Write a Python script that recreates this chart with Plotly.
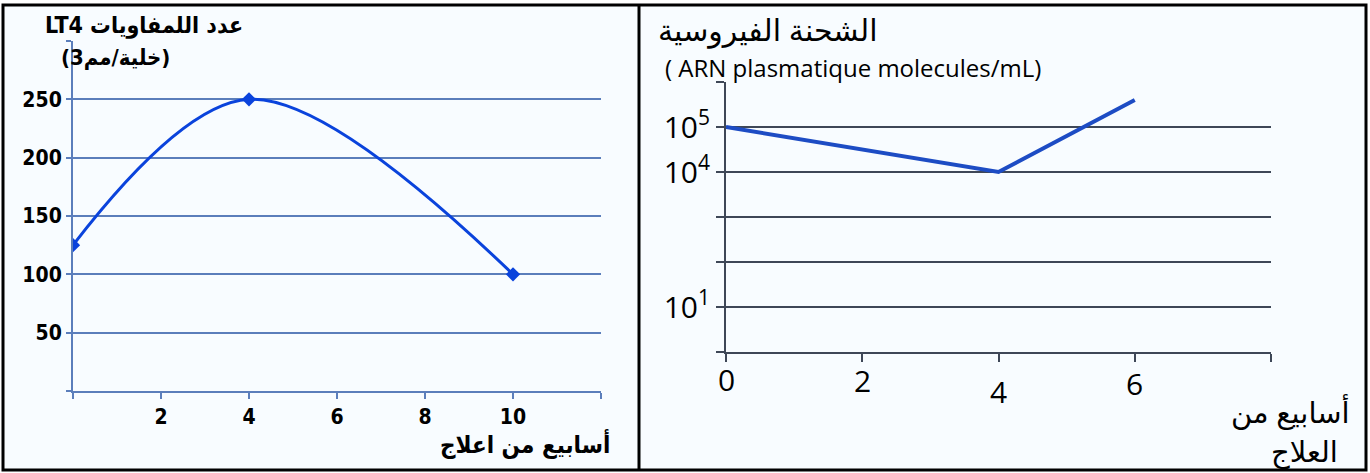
import plotly.graph_objects as go

# ---- data: left chart (LT4 count) ----
lt4_weeks = [0, 4, 10]
lt4_values = [125, 250, 100]
lt4_xticks = [2, 4, 6, 8, 10]
lt4_xticktext = ["2", "4", "6", "8", "10"]
lt4_xminor = [0, 12]
lt4_yticks = [50, 100, 150, 200, 250]
lt4_yticktext = ["50", "100", "150", "200", "250"]
lt4_yminor = [0, 300]

# ---- data: right chart (viral load) ----
vl_weeks = [0, 4, 6]
vl_values = [1e5, 1e4, 4e5]
vl_xticks = [0, 2, 4, 6]
vl_xticktext = ["0", "2", "4", "6"]
vl_xminor = [8]
vl_yticks = [10, 1e4, 1e5]
vl_yticktext = ["10<sup>1</sup>", "10<sup>4</sup>", "10<sup>5</sup>"]
vl_yminor = [1, 100, 1000, 1e6]

W, H = 1370, 473
def px(x):
    return x / W
def py(y):
    return 1 - y / H

BOLD = "DejaVu Sans Condensed, DejaVu Sans"
LIGHT = "Open Sans, DejaVu Sans"
blue_grid = "#5B7EBB"
dark_grid = "#3E4757"

fig = go.Figure()

fig.add_trace(go.Scatter(
    x=lt4_weeks, y=lt4_values, xaxis="x", yaxis="y",
    mode="lines+markers", line=dict(color="#0A43DC", width=3, shape="spline", smoothing=1.0),
    marker=dict(symbol="diamond", size=11, color="#0A43DC"), showlegend=False,
))
fig.add_trace(go.Scatter(
    x=vl_weeks, y=vl_values, xaxis="x2", yaxis="y2",
    mode="lines", line=dict(color="#1D4CC4", width=4), showlegend=False,
))

fig.update_layout(
    width=W, height=H, margin=dict(l=0, r=0, t=0, b=0),
    paper_bgcolor="white", plot_bgcolor="rgba(0,0,0,0)",
    xaxis=dict(domain=[px(73), px(601)], anchor="y", range=[0, 12],
               tickvals=lt4_xticks, ticktext=lt4_xticktext, showgrid=False, zeroline=False,
               showline=True, linecolor=blue_grid, linewidth=2,
               ticks="outside", ticklen=6, tickcolor=blue_grid, tickwidth=2,
               minor=dict(tickvals=lt4_xminor, ticks="outside", ticklen=6, tickcolor=blue_grid,
                          tickwidth=2, showgrid=False),
               tickfont=dict(family=BOLD, size=21, color="black", weight="bold")),
    yaxis=dict(domain=[py(391), py(41)], anchor="x", range=[0, 300],
               tickvals=lt4_yticks, ticktext=lt4_yticktext, showgrid=True, gridcolor=blue_grid, gridwidth=2,
               zeroline=False, showline=True, linecolor=blue_grid, linewidth=2,
               ticks="outside", ticklen=5, tickcolor=blue_grid, tickwidth=2,
               minor=dict(tickvals=lt4_yminor, ticks="outside", ticklen=5, tickcolor=blue_grid,
                          tickwidth=2, showgrid=True, gridcolor=blue_grid, gridwidth=2),
               tickfont=dict(family=BOLD, size=21, color="black", weight="bold")),
    xaxis2=dict(domain=[px(726), px(1271)], anchor="y2", range=[0, 8],
                tickvals=vl_xticks, showticklabels=False, showgrid=False, zeroline=False,
                showline=True, linecolor=dark_grid, linewidth=2,
                ticks="outside", ticklen=8, tickcolor=dark_grid, tickwidth=2,
                minor=dict(tickvals=vl_xminor, ticks="outside", ticklen=8, tickcolor=dark_grid,
                           tickwidth=2, showgrid=False)),
    yaxis2=dict(domain=[py(352), py(82)], anchor="x2", type="log", range=[0, 6],
                tickvals=vl_yticks, ticktext=vl_yticktext, showgrid=True, gridcolor=dark_grid, gridwidth=2,
                zeroline=False, showline=True, linecolor=dark_grid, linewidth=2,
                ticks="outside", ticklen=8, tickcolor=dark_grid, tickwidth=2,
                minor=dict(tickvals=vl_yminor, ticks="outside", ticklen=8, tickcolor=dark_grid,
                           tickwidth=2, showgrid=True, gridcolor=dark_grid, gridwidth=2),
                tickfont=dict(family=LIGHT, size=30, color="black")),
)

# right x tick labels (the "4" sits lower in the original)
label_drop = [5, 6, 17, 9]
for v, t, d in zip(vl_xticks, vl_xticktext, label_drop):
    fig.add_annotation(x=v, y=0, xref="x2", yref="y2 domain", text=t, showarrow=False,
                       yanchor="top", xanchor="center", yshift=-d,
                       font=dict(family=LIGHT, size=30, color="black"))

# titles
fig.add_annotation(x=px(245), y=py(25), xref="paper", yref="paper", text="LT4 عدد اللمفاويات",
                   showarrow=False, xanchor="right", yanchor="middle",
                   font=dict(family=BOLD, size=23, color="black", weight="bold"))
fig.add_annotation(x=px(172), y=py(57), xref="paper", yref="paper", text="(خلية/مم3)",
                   showarrow=False, xanchor="right", yanchor="middle",
                   font=dict(family=BOLD, size=22, color="black", weight="bold"))
fig.add_annotation(x=px(612), y=py(444), xref="paper", yref="paper", text="أسابيع من اعلاج",
                   showarrow=False, xanchor="right", yanchor="middle",
                   font=dict(family=BOLD, size=24, color="black", weight="bold"))

fig.add_annotation(x=px(880), y=py(29), xref="paper", yref="paper", text="الشحنة الفيروسية",
                   showarrow=False, xanchor="right", yanchor="middle",
                   font=dict(family=LIGHT, size=30, color="black"))
fig.add_annotation(x=px(663), y=py(68), xref="paper", yref="paper", text="( ARN plasmatique molecules/mL)",
                   showarrow=False, xanchor="left", yanchor="middle",
                   font=dict(family=LIGHT, size=24, color="black"))
fig.add_annotation(x=px(1352), y=py(411), xref="paper", yref="paper", text="أسابيع من",
                   showarrow=False, xanchor="right", yanchor="middle",
                   font=dict(family=LIGHT, size=29, color="black"))
fig.add_annotation(x=px(1340), y=py(450), xref="paper", yref="paper", text="العلاج",
                   showarrow=False, xanchor="right", yanchor="middle",
                   font=dict(family=LIGHT, size=29, color="black"))

# panel background and frame
fig.add_shape(type="rect", xref="paper", yref="paper", x0=px(3), x1=px(1366), y0=py(470), y1=py(5),
              fillcolor="#F8FCFF", line=dict(width=0), layer="below")
fig.add_shape(type="rect", xref="paper", yref="paper", x0=px(3), x1=px(1366), y0=py(470), y1=py(5),
              fillcolor="rgba(0,0,0,0)", line=dict(color="black", width=3), layer="above")
fig.add_shape(type="line", xref="paper", yref="paper", x0=px(639), x1=px(639), y0=py(470), y1=py(5),
              line=dict(color="black", width=3), layer="above")

fig.write_html("out.html", config={"displayModeBar": False},
               post_script="document.body.style.margin='0';document.body.style.overflow='hidden';")
